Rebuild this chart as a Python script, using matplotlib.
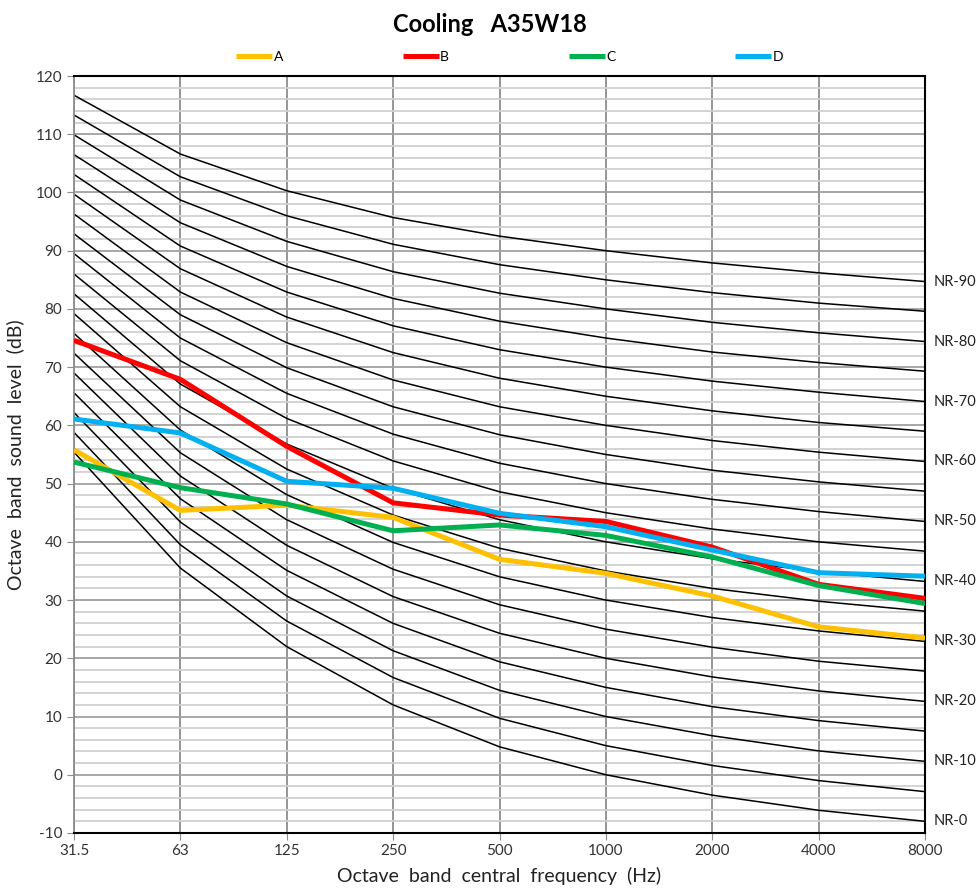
import numpy as np
import matplotlib
matplotlib.use("Agg")
import matplotlib.pyplot as plt
import matplotlib.transforms as mtransforms

plt.rcParams["font.family"] = ["Lato", "DejaVu Sans"]
plt.rcParams["axes.unicode_minus"] = False

freqs = ["31.5", "63", "125", "250", "500", "1000", "2000", "4000", "8000"]

# NR curves (NR-0 ... NR-90, step 5), levels per octave band
nr_levels = [0, 5, 10, 15, 20, 25, 30, 35, 40, 45, 50, 55, 60, 65, 70, 75, 80, 85, 90]
nr_curves = [
    [55.4, 35.5, 22.0, 12.0, 4.8, 0, -3.5, -6.1, -8.0],
    [58.8, 39.5, 26.4, 16.7, 9.7, 5, 1.6, -1.0, -2.9],
    [62.2, 43.4, 30.7, 21.3, 14.5, 10, 6.7, 4.1, 2.3],
    [65.6, 47.4, 35.1, 26.0, 19.4, 15, 11.7, 9.3, 7.5],
    [69.0, 51.3, 39.4, 30.6, 24.3, 20, 16.8, 14.4, 12.6],
    [72.4, 55.3, 43.8, 35.3, 29.2, 25, 21.9, 19.5, 17.8],
    [75.8, 59.2, 48.1, 39.9, 34.0, 30, 27.0, 24.7, 22.9],
    [79.2, 63.2, 52.5, 44.6, 38.9, 35, 32.0, 29.8, 28.1],
    [82.6, 67.1, 56.8, 49.2, 43.8, 40, 37.1, 34.9, 33.2],
    [86.0, 71.1, 61.2, 53.9, 48.6, 45, 42.2, 40.0, 38.4],
    [89.5, 75.0, 65.5, 58.5, 53.5, 50, 47.3, 45.2, 43.5],
    [92.9, 79.0, 69.9, 63.2, 58.4, 55, 52.3, 50.3, 48.7],
    [96.3, 82.9, 74.2, 67.8, 63.2, 60, 57.4, 55.4, 53.8],
    [99.7, 86.9, 78.6, 72.5, 68.1, 65, 62.5, 60.5, 59.0],
    [103.1, 90.8, 82.9, 77.1, 73.0, 70, 67.6, 65.7, 64.1],
    [106.5, 94.8, 87.3, 81.8, 77.9, 75, 72.6, 70.8, 69.3],
    [109.9, 98.7, 91.6, 86.4, 82.7, 80, 77.7, 75.9, 74.4],
    [113.3, 102.7, 96.0, 91.1, 87.6, 85, 82.8, 81.0, 79.6],
    [116.7, 106.6, 100.3, 95.7, 92.5, 90, 87.9, 86.2, 84.7],
]

series_names = ["A", "B", "C", "D"]
series_a = [55.8, 45.4, 46.3, 44.2, 37.0, 34.6, 30.7, 25.4, 23.5]
series_b = [74.6, 67.9, 56.4, 46.7, 44.6, 43.5, 39.1, 32.7, 30.3]
series_c = [53.7, 49.3, 46.5, 41.9, 42.9, 41.1, 37.4, 32.5, 29.4]
series_d = [61.1, 58.7, 50.4, 49.2, 44.9, 42.6, 38.6, 34.7, 34.1]
colors = ["#FFC000", "#FF0000", "#00B050", "#00B0F0"]

x = np.arange(len(freqs))

fig = plt.figure(figsize=(9.8, 8.91), dpi=100)
ax = fig.add_axes([0.0755, 0.0651, 0.8684, 0.8496])

# grid
ax.set_yticks(np.arange(-10, 121, 10))
ax.set_yticks(np.arange(-10, 121, 2), minor=True)
ax.grid(which="minor", axis="y", color="#d0d0d0", lw=1.3, zorder=0)
ax.grid(which="major", axis="y", color="#a0a0a0", lw=1.3, zorder=0)
ax.grid(which="major", axis="x", color="#8c8c8c", lw=1.3, zorder=0)

for level, curve in zip(nr_levels, nr_curves):
    ax.plot(x, curve, color="black", lw=1.1, zorder=2)
    if level % 10 == 0:
        ax.text(1.01, curve[-1], f"NR-{level}", transform=mtransforms.blended_transform_factory(ax.transAxes, ax.transData),
                ha="left", va="center", fontsize=10.5, color="#222222")

for name, vals, c in zip(series_names, [series_a, series_b, series_c, series_d], colors):
    ax.plot(x, vals, color=c, lw=3.6, label=name, zorder=3, solid_capstyle="butt")

ax.set_xlim(0, len(freqs) - 1)
ax.set_ylim(-10, 120)
ax.set_xticks(x)
ax.set_xticklabels(freqs)
ax.tick_params(axis="both", which="major", labelsize=11, length=5, color="#8c8c8c", labelcolor="#333333")
ax.tick_params(axis="y", which="minor", length=0)
ax.tick_params(axis="x", pad=3)

for side in ["top", "right", "bottom"]:
    ax.spines[side].set_color("black")
    ax.spines[side].set_linewidth(1.5)
ax.spines["left"].set_color("#8c8c8c")
ax.spines["left"].set_linewidth(1.3)

ax.set_xlabel("Octave  band  central  frequency  (Hz)", fontsize=14, labelpad=6, color="#222222")
ax.set_ylabel("Octave  band  sound  level  (dB)", fontsize=14, labelpad=8, color="#222222")

fig.suptitle("Cooling   A35W18", fontsize=17, fontweight="bold", y=0.985)

fig.legend(loc="center", bbox_to_anchor=(0.52, 0.936), ncol=4, frameon=False, fontsize=10,
           handlelength=2.6, handletextpad=0.1, columnspacing=8.6)

fig.savefig("out.png", dpi=100)
